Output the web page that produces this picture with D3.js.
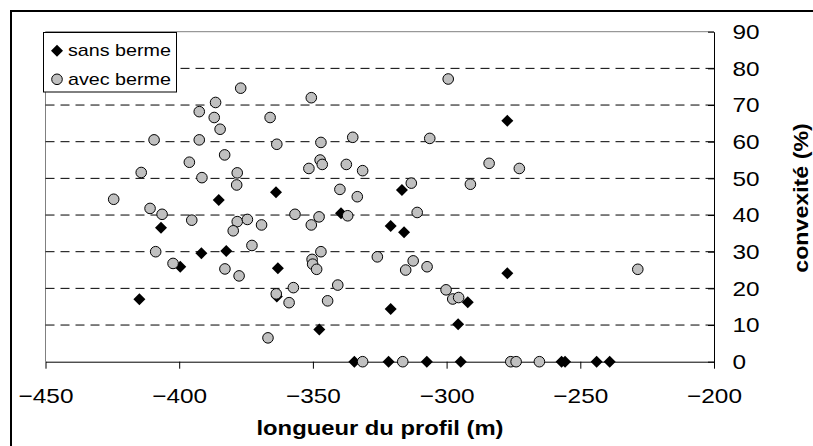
<!DOCTYPE html>
<html><head><meta charset="utf-8">
<script src="https://cdn.jsdelivr.net/npm/d3@7"></script>
<style>html,body{margin:0;padding:0;background:#fff;}svg{display:block;}</style>
</head><body>
<script>
// ---- data ----
const xTicks = [-450, -400, -350, -300, -250, -200];
const yTicks = [0, 10, 20, 30, 40, 50, 60, 70, 80, 90];
const seriesNames = ["sans berme", "avec berme"];
const sansX = [-385.2, -363.8, -406.8, -391.7, -382.4, -399.6, -414.9, -363.1, -363.5, -339.5, -320.9, -315.9, -320.9, -347.6, -295.7, -292.1, -277.3, -277.3, -316.7, -334.5, -321.7, -307.4, -294.7, -257.0, -255.7, -243.9, -239.0];
const sansY = [44.1, 46.2, 36.5, 29.6, 30.2, 25.9, 17.0, 25.5, 17.8, 40.5, 37.0, 35.3, 14.4, 8.8, 10.2, 16.2, 24.1, 65.7, 46.8, 0, 0, 0, 0, 0, 0, 0, 0];
const avecX = [-377.0, -386.4, -392.5, -386.9, -366.0, -384.7, -409.4, -392.5, -363.5, -383.0, -396.2, -414.2, -378.3, -391.5, -378.5, -424.5, -410.9, -406.4, -395.3, -378.3, -374.5, -369.2, -379.8, -372.8, -408.8, -402.3, -382.9, -377.6, -363.7, -366.8,
  -299.4, -350.6, -347.0, -335.1, -306.3, -347.3, -346.5, -351.5, -337.5, -331.4, -284.1, -272.8, -339.9, -333.4, -313.2, -291.1,
  -356.7, -347.7, -350.6, -337.0, -311.0, -347.0, -350.3, -350.1, -348.6, -325.9, -312.5, -315.3, -307.3, -357.3, -358.9, -340.7, -344.5, -300.2, -297.7, -295.5, -228.5,
  -331.4, -316.4, -276.0, -274.0, -265.3];
const avecY = [74.6, 70.7, 68.2, 66.6, 66.6, 63.4, 60.5, 60.5, 59.3, 56.4, 54.4, 51.6, 51.5, 50.2, 48.2, 44.3, 41.8, 40.2, 38.6, 38.2, 38.8, 37.3, 35.7, 31.7, 30.0, 26.8, 25.3, 23.4, 18.5, 6.5,
  77.1, 72.0, 59.8, 61.2, 60.9, 55.0, 53.8, 52.7, 53.8, 52.1, 54.1, 52.7, 47.0, 45.0, 48.7, 48.4,
  40.2, 39.5, 37.3, 39.8, 40.7, 30.0, 27.9, 26.6, 25.2, 28.6, 27.5, 25.0, 25.9, 20.2, 16.1, 20.9, 16.6, 19.6, 17.1, 17.5, 25.2,
  0, 0, 0, 0, 0];
const xTitle = "longueur du profil (m)";
const yTitle = "convexité (%)";

// ---- layout ----
const W = 813, H = 446;
const L = 45.5, R = 714, T = 31.7, B = 361.7;
const FONT = "'Liberation Sans', Arial, Helvetica, sans-serif";
const SX = 1.16;

const svg = d3.select("body").append("svg").attr("width", W).attr("height", H)
  .style("font-family", FONT);
svg.append("rect").attr("width", W).attr("height", H).attr("fill", "#fff");
// outer frame (right and bottom edges fall outside the picture)
svg.append("rect").attr("x", 11).attr("y", 11).attr("width", 810).attr("height", 445)
  .attr("fill", "none").attr("stroke", "#000").attr("stroke-width", 2);

const x = d3.scaleLinear().domain([-450, -200]).range([L, R]);
const y = d3.scaleLinear().domain([0, 90]).range([B, T]);

// plot border (top & left, gray)
svg.append("line").attr("x1", L).attr("x2", R).attr("y1", T).attr("y2", T).attr("stroke", "#808080");
svg.append("line").attr("x1", L).attr("x2", L).attr("y1", T).attr("y2", B).attr("stroke", "#808080");

// gridlines
svg.append("g").selectAll("line").data(yTicks.filter(v => v > 0 && v < 90)).join("line")
  .attr("x1", L).attr("x2", R).attr("y1", d => y(d)).attr("y2", d => y(d))
  .attr("stroke", "#000").attr("stroke-width", 1).attr("stroke-dasharray", "9,6");

// x axis
const gx = svg.append("g").attr("transform", `translate(0,${B})`)
  .call(d3.axisBottom(x).tickValues(xTicks).tickFormat(d3.format("d")).tickSize(7).tickSizeOuter(0).tickPadding(19.6));
gx.selectAll("path,line").attr("stroke", "#000");
gx.selectAll("text").attr("font-size", 21).attr("font-family", FONT).attr("fill", "#000")
  .attr("transform", `scale(${SX},1)`);

// y axis (right)
const gy = svg.append("g").attr("transform", `translate(${R},0)`)
  .call(d3.axisRight(y).tickValues(yTicks).tickSize(-6).tickSizeOuter(0).tickPadding(19));
gy.selectAll("path,line").attr("stroke", "#000");
gy.selectAll("text").attr("font-size", 21).attr("font-family", FONT).attr("fill", "#000")
  .attr("x", 18.5 / SX).attr("transform", `scale(${SX},1)`);

// markers
const diamondPath = "M0,-6L6,0L0,6L-6,0Z";
svg.append("g").selectAll("path").data(d3.range(sansX.length)).join("path")
  .attr("d", diamondPath)
  .attr("transform", i => `translate(${x(sansX[i])},${y(sansY[i])})`)
  .attr("fill", "#000");
svg.append("g").selectAll("circle").data(d3.range(avecX.length)).join("circle")
  .attr("cx", i => x(avecX[i])).attr("cy", i => y(avecY[i])).attr("r", 5.3)
  .attr("fill", "#c0c0c0").attr("stroke", "#000").attr("stroke-width", 1);

// titles
svg.append("text").text(xTitle).attr("text-anchor", "middle")
  .attr("transform", `translate(380,435) scale(1.19,1)`)
  .attr("font-size", 20).attr("font-weight", "bold").attr("fill", "#000");
svg.append("text").text(yTitle).attr("text-anchor", "middle")
  .attr("transform", `translate(808,198) rotate(-90) scale(${SX},1)`)
  .attr("font-size", 20).attr("font-weight", "bold").attr("fill", "#000");

// legend
const lg = svg.append("g");
lg.append("rect").attr("x", 43.5).attr("y", 32.5).attr("width", 133).attr("height", 59.5)
  .attr("fill", "#fff").attr("stroke", "#000");
lg.append("path").attr("d", diamondPath).attr("transform", "translate(57,50.7)").attr("fill", "#000");
lg.append("circle").attr("cx", 57).attr("cy", 79.3).attr("r", 5.3)
  .attr("fill", "#c0c0c0").attr("stroke", "#000");
lg.selectAll("text.l").data(seriesNames).join("text").attr("class", "l")
  .text(d => d)
  .attr("transform", (d, i) => `translate(68,${56 + i * 29}) scale(${SX},1)`)
  .attr("font-size", 17).attr("fill", "#000");
</script>
</body></html>
